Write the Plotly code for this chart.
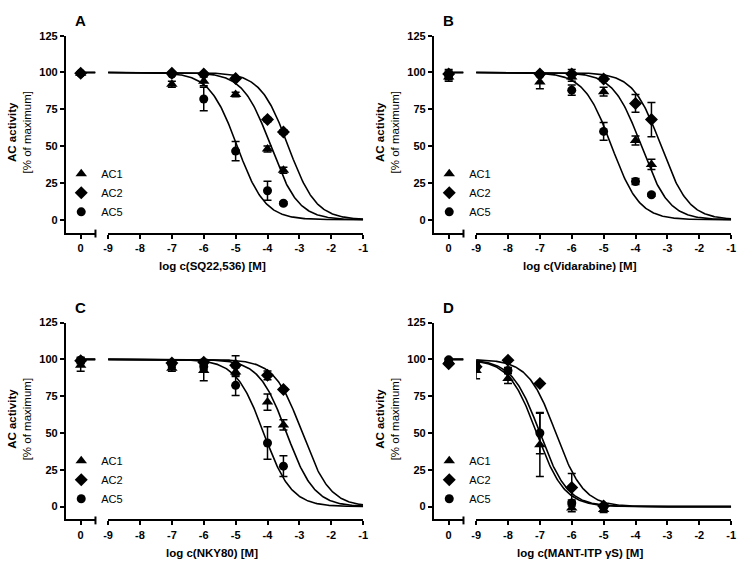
import numpy as np
import plotly.graph_objects as go

W, H = 747, 561
FONT = "Liberation Sans, Arial, sans-serif"

panel_letters = ["A", "B", "C", "D"]
x_titles = ["log c(SQ22,536) [M]", "log c(Vidarabine) [M]",
            "log c(NKY80) [M]", "log c(MANT-ITP γS) [M]"]
series_names = ["AC1", "AC2", "AC5"]
series_symbols = ["triangle-up", "diamond", "circle"]
series_sizes = [10, 10, 9]
x_ticks = [-9, -8, -7, -6, -5, -4, -3, -2, -1]
y_ticks = [0, 25, 50, 75, 100, 125]

# log concentrations [M] per panel
conc_A = [-7, -6, -5, -4, -3.5]
conc_B = [-7, -6, -5, -4, -3.5]
conc_C = [-7, -6, -5, -4, -3.5]
conc_D = [-9, -8, -7, -6, -5]

# control (no inhibitor) values, % of maximum  [AC1, AC2, AC5]
ctrl_A = [99.5, 99.5, 99.5]
ctrl_A_err = [1, 1, 1]
ctrl_B = [97, 99, 98]
ctrl_B_err = [3, 3, 3]
ctrl_C = [96, 99, 99.5]
ctrl_C_err = [4, 2, 2]
ctrl_D = [99, 97, 99.7]
ctrl_D_err = [1, 1, 1]

# Panel A: SQ22,536
A_AC1 = [92, 94, 85, 48, 33.6]
A_AC1_err = [2, 3, 1.5, 2, 2]
A_AC2 = [99.5, 99, 96, 68, 59.6]
A_AC2_err = [1, 1, 1, 1.5, 1.5]
A_AC5 = [99, 82, 46.6, 19.7, 11.2]
A_AC5_err = [1, 8, 6.5, 6.5, 1]

# Panel B: Vidarabine
B_AC1 = [93.6, 97, 87, 53.8, 37.6]
B_AC1_err = [4.7, 3, 3, 3, 3.4]
B_AC2 = [99, 99, 95.5, 79, 68]
B_AC2_err = [1, 3, 1.5, 6, 11.7]
B_AC5 = [98.5, 88, 60, 26, 17]
B_AC5_err = [1, 3.5, 6, 2, 1]

# Panel C: NKY80
C_AC1 = [94, 92.5, 91.4, 71, 55.5]
C_AC1_err = [2, 7, 3, 5.5, 3.5]
C_AC2 = [97.5, 98, 96, 89.2, 79.5]
C_AC2_err = [1, 2, 6.5, 3, 1]
C_AC5 = [96.5, 95, 82.4, 43.2, 27.5]
C_AC5_err = [2, 2, 7, 11, 7]

# Panel D: MANT-ITPγS
D_AC1 = [92.5, 87, 42, -1, -2]
D_AC1_err = [5.6, 3.4, 21.5, 2.5, 2]
D_AC2 = [95, 99.5, 83.6, 13, 0.5]
D_AC2_err = [1, 1, 1, 9.5, 1]
D_AC5 = [95, 92.5, 50, 2.5, 0]
D_AC5_err = [2, 2, 14, 2, 1]

# fitted log IC50 values (top = 100, bottom = 0, Hill slope = -1)  [AC1, AC2, AC5]
logIC50_A = [-3.9, -3.35, -4.95]
logIC50_B = [-3.82, -3.2, -4.75]
logIC50_C = [-3.4, -2.91, -4.12]
logIC50_D = [-7.1, -6.5, -7.0]
fit_top = 100
fit_bottom = 0
hill = 1.0

panels = [
    (conc_A, ctrl_A, ctrl_A_err, [A_AC1, A_AC2, A_AC5], [A_AC1_err, A_AC2_err, A_AC5_err], logIC50_A),
    (conc_B, ctrl_B, ctrl_B_err, [B_AC1, B_AC2, B_AC5], [B_AC1_err, B_AC2_err, B_AC5_err], logIC50_B),
    (conc_C, ctrl_C, ctrl_C_err, [C_AC1, C_AC2, C_AC5], [C_AC1_err, C_AC2_err, C_AC5_err], logIC50_C),
    (conc_D, ctrl_D, ctrl_D_err, [D_AC1, D_AC2, D_AC5], [D_AC1_err, D_AC2_err, D_AC5_err], logIC50_D),
]


def fx(px):
    return px / W


def fy(py):
    return 1 - py / H


fig = go.Figure()
layout = dict(
    width=W, height=H, margin=dict(l=0, r=0, t=0, b=0),
    paper_bgcolor="white", plot_bgcolor="white",
    font=dict(family=FONT, size=11, color="black"),
    showlegend=True,
)
annotations = []
shapes = []

axis_common = dict(showline=True, linewidth=2, linecolor="black", ticks="outside",
                   ticklen=4, tickwidth=2, tickcolor="black", showgrid=False,
                   zeroline=False, mirror=False, fixedrange=True,
                   tickfont=dict(family=FONT, size=11, color="black", weight="bold"))

xfit = np.linspace(-9, -1, 300)

for p, (conc, ctrl, ctrl_err, vals, errs, ic50s) in enumerate(panels):
    col, row = p % 2, p // 2
    dx, dy = 373 * col, 290 * row
    xl, xr, ya = 2 * p + 1, 2 * p + 2, p + 1
    xl_name = "xaxis" if xl == 1 else f"xaxis{xl}"
    xr_name = f"xaxis{xr}"
    y_name = "yaxis" if ya == 1 else f"yaxis{ya}"
    xl_ref = "x" if xl == 1 else f"x{xl}"
    xr_ref = f"x{xr}"
    y_ref = "y" if ya == 1 else f"y{ya}"
    leg = "legend" if p == 0 else f"legend{p + 1}"

    y_dom = [fy(229 + dy), fy(30 + dy)]
    layout[xl_name] = dict(axis_common, domain=[fx(61.7 + dx), fx(91.7 + dx)], range=[-1, 1],
                           tickvals=[0], ticktext=["0"], anchor=y_ref)
    layout[xr_name] = dict(axis_common, domain=[fx(104.5 + dx), fx(363 + dx)], range=[-9, -1],
                           tickvals=x_ticks, ticktext=[str(t) for t in x_ticks], anchor=y_ref)
    layout[y_name] = dict(axis_common, domain=y_dom, range=[-8.7, 125], tickvals=y_ticks,
                          ticktext=[str(t) for t in y_ticks], anchor=xl_ref)

    for s in range(3):
        ic = ic50s[s]
        yfit = fit_bottom + (fit_top - fit_bottom) / (1 + 10 ** ((xfit - ic) * hill))
        fig.add_trace(go.Scatter(x=xfit, y=yfit, mode="lines", line=dict(color="black", width=1.6),
                                 xaxis=xr_ref, yaxis=y_ref, showlegend=False, hoverinfo="skip"))
        fig.add_trace(go.Scatter(x=[0, 1], y=[fit_top, fit_top], mode="lines",
                                 line=dict(color="black", width=1.6),
                                 xaxis=xl_ref, yaxis=y_ref, showlegend=False, hoverinfo="skip"))
    for s in range(3):
        mk = dict(symbol=series_symbols[s], size=series_sizes[s], color="black",
                  line=dict(width=0))
        eb = dict(type="data", array=errs[s], visible=True, color="black", thickness=1.5, width=4)
        fig.add_trace(go.Scatter(x=conc, y=vals[s], mode="markers", marker=mk, error_y=eb,
                                 name=series_names[s], xaxis=xr_ref, yaxis=y_ref,
                                 legend=leg, showlegend=True))
        eb0 = dict(type="data", array=[ctrl_err[s]], visible=True, color="black", thickness=1.5, width=4)
        fig.add_trace(go.Scatter(x=[0], y=[ctrl[s]], mode="markers", marker=mk, error_y=eb0,
                                 xaxis=xl_ref, yaxis=y_ref, showlegend=False, legend=leg))

    layout[leg] = dict(x=fx(57 + dx), y=fy(155 + dy), xanchor="left", yanchor="top",
                       bgcolor="rgba(0,0,0,0)", font=dict(family=FONT, size=11, color="black"),
                       tracegroupgap=0, itemclick=False, itemdoubleclick=False)

    # axis break mark at right end of the left segment
    shapes.append(dict(type="line", xref="paper", yref="paper",
                       x0=fx(91.7 + dx), x1=fx(91.7 + dx), y0=fy(226 + dy), y1=fy(234 + dy),
                       line=dict(color="black", width=2)))

    annotations.append(dict(text="<b>" + panel_letters[p] + "</b>", xref="paper", yref="paper",
                            x=fx(77 + dx), y=fy(15 + dy), showarrow=False,
                            font=dict(family=FONT, size=15, color="black"),
                            xanchor="center", yanchor="middle"))
    annotations.append(dict(text="<b>" + x_titles[p] + "</b>", xref="paper", yref="paper",
                            x=fx(210 + dx), y=fy(263 + dy), showarrow=False,
                            font=dict(family=FONT, size=11.5, color="black"),
                            xanchor="center", yanchor="middle"))
    annotations.append(dict(text="<b>AC activity</b><br>[% of maximum]", xref="paper", yref="paper",
                            x=fx(15 + dx), y=fy(128 + dy), showarrow=False, textangle=-90,
                            font=dict(family=FONT, size=11.5, color="black"),
                            xanchor="center", yanchor="middle"))

layout["annotations"] = annotations
layout["shapes"] = shapes
fig.update_layout(**layout)
fig.write_html("out.html")
